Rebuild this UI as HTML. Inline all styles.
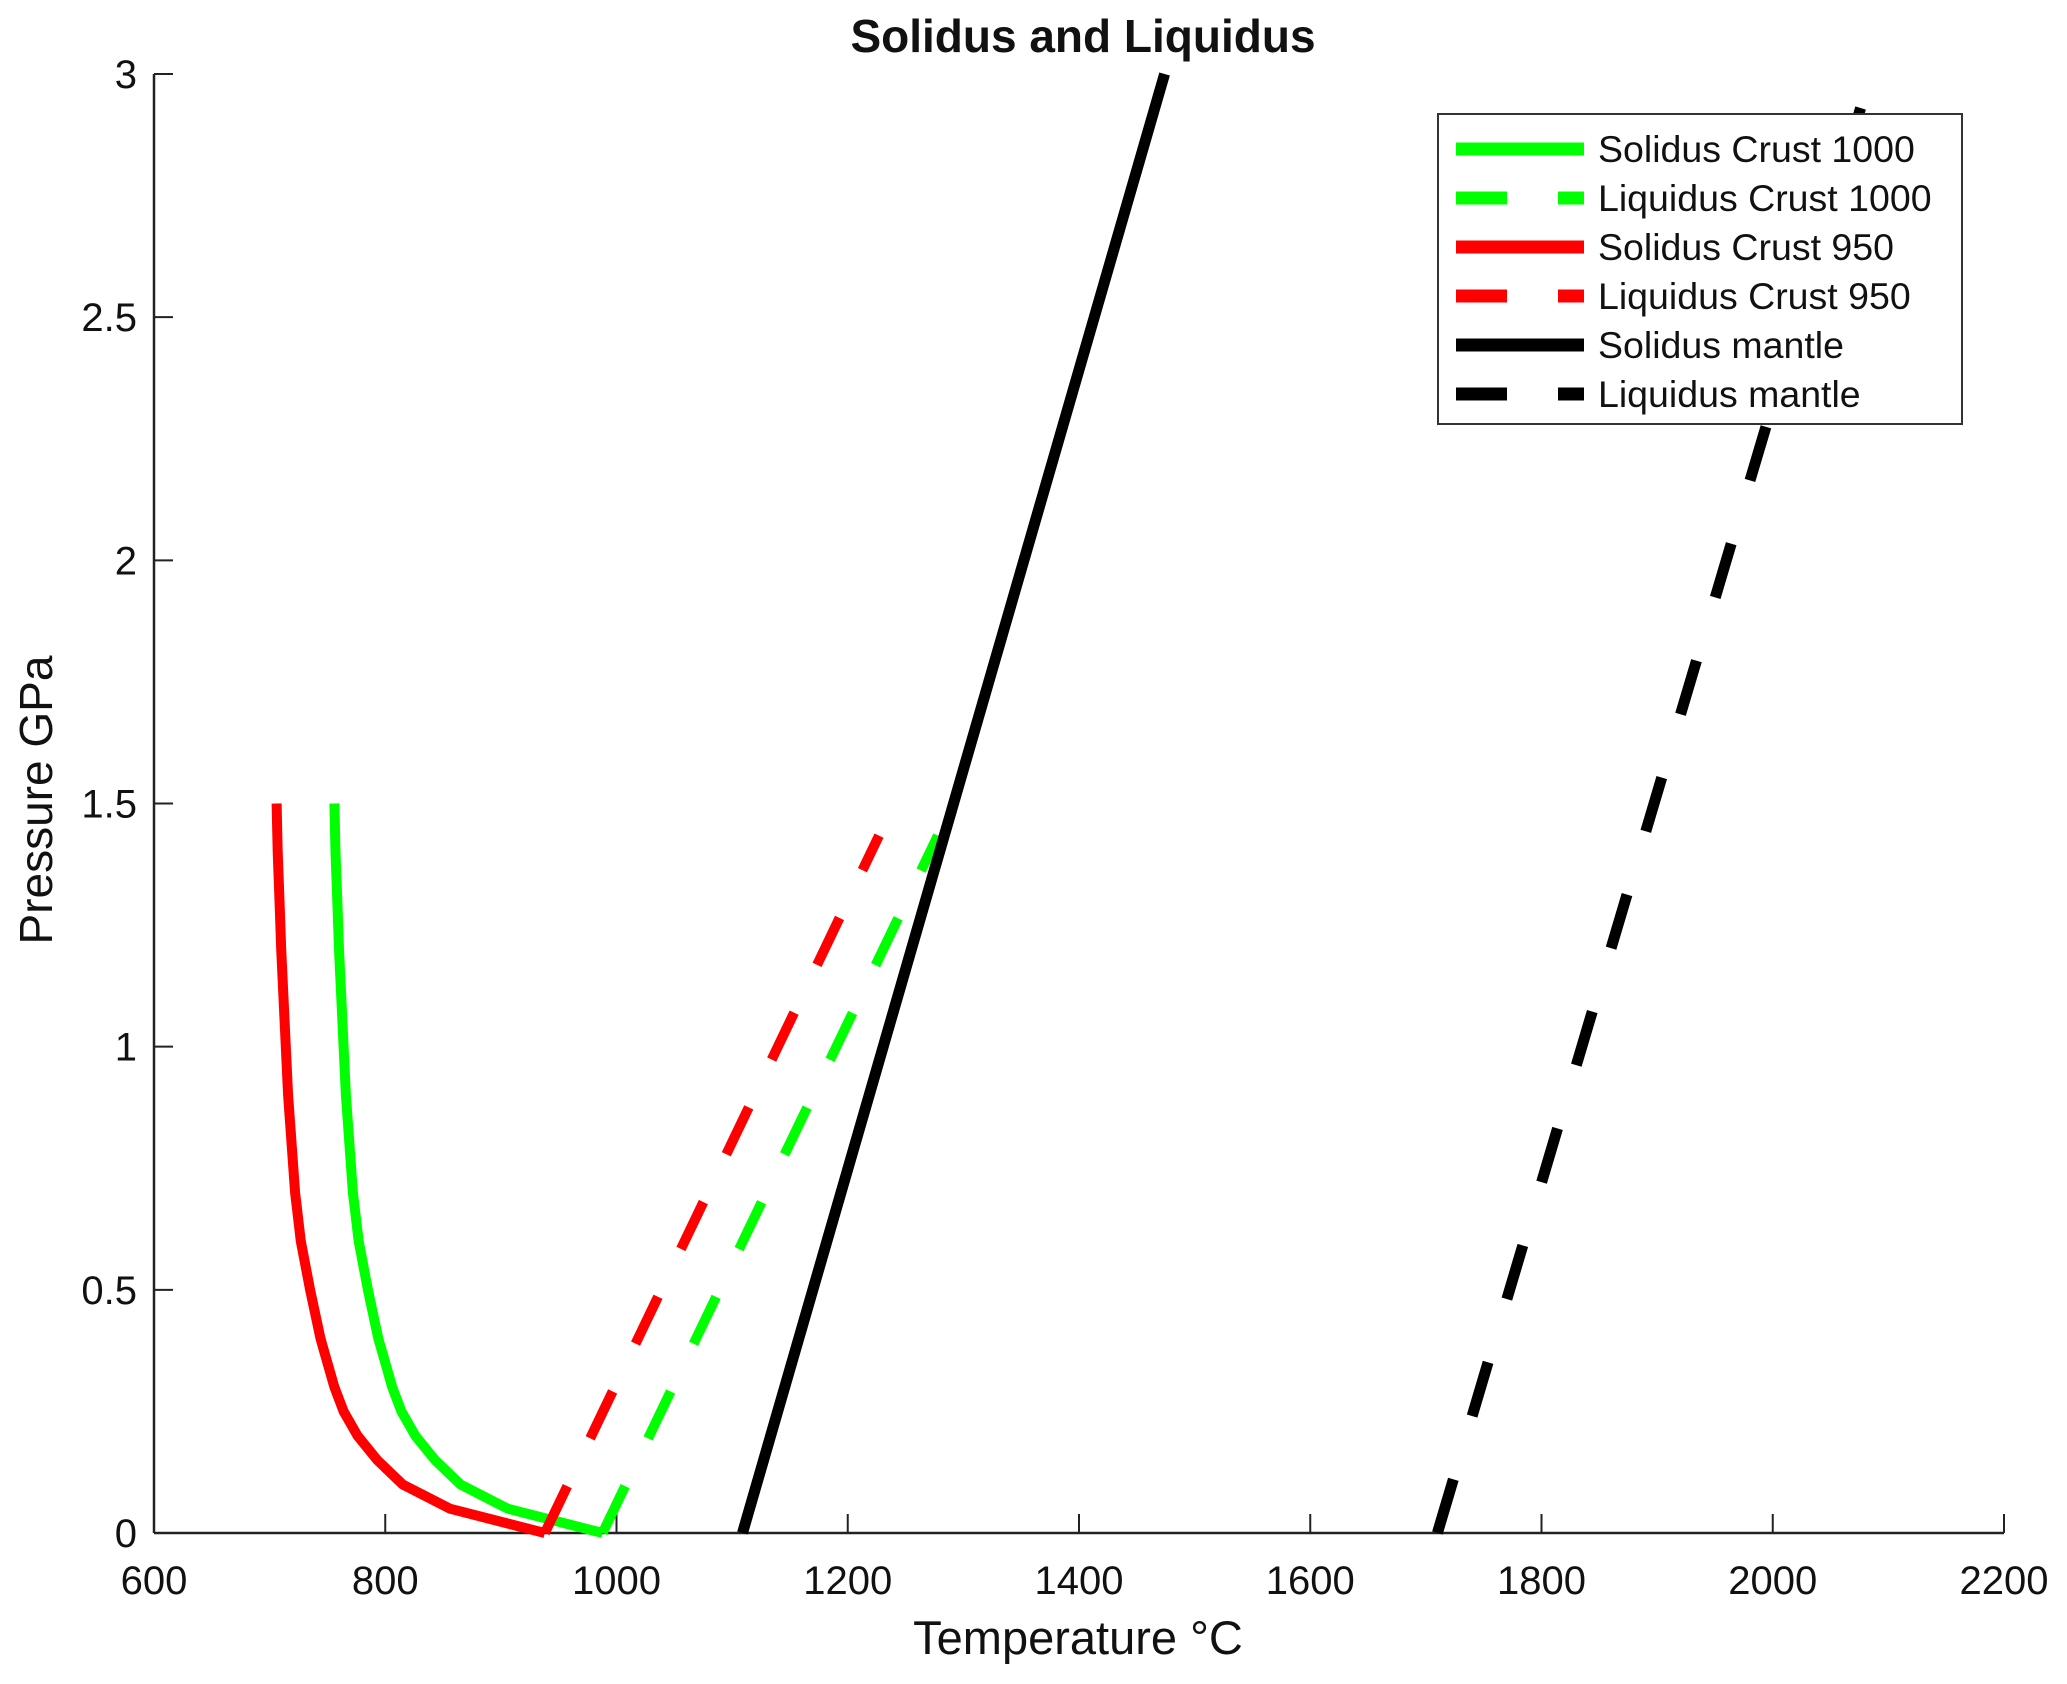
<!DOCTYPE html>
<html><head><meta charset="utf-8"><style>
html,body{margin:0;padding:0;background:#fff}
svg{display:block}
text{font-family:"Liberation Sans",Arial,sans-serif;fill:#111}
</style></head><body>
<svg id="chart" width="2067" height="1684" viewBox="0 0 2067 1684" xmlns="http://www.w3.org/2000/svg">
<text x="1083" y="52" font-size="46" font-weight="bold" text-anchor="middle">Solidus and Liquidus</text>
<g id="axes"></g>
<g id="series"></g>
<text x="1078" y="1654" font-size="47" text-anchor="middle">Temperature °C</text>
<text transform="translate(52,800) rotate(-90)" font-size="46" text-anchor="middle">Pressure GPa</text>
<g id="legend"></g>
</svg>
<script>
const xTicks=[600,800,1000,1200,1400,1600,1800,2000,2200];
const yTicks=[0,0.5,1,1.5,2,2.5,3];
const yTickLabels=["0","0.5","1","1.5","2","2.5","3"];
const solidusP=[0,0.05,0.1,0.15,0.2,0.25,0.3,0.35,0.4,0.5,0.6,0.7,0.8,0.9,1.0,1.1,1.2,1.3,1.4,1.5];
const solidusT950=[938,856,815,793,776,764,756,750,744,735,727,722,719,716,714,712,710,708.5,707,706];
const solidusT1000=[988,906,865,843,826,814,806,800,794,785,777,772,769,766,764,762,760,758.5,757,756];
const liqCrustP=[0,1.434];
const liqT950=[938,1227];
const liqT1000=[988,1278];
const solMantleP=[0,3];
const solMantleT=[1109,1474];
const liqMantleP=[0,2.93];
const liqMantleT=[1710,2076];
const legendLabels=["Solidus Crust 1000","Liquidus Crust 1000","Solidus Crust 950","Liquidus Crust 950","Solidus mantle","Liquidus mantle"];

const X0=154,X1=2004,Y0=1533,Y1=74;
const xs=t=>X0+(t-600)/1600*(X1-X0);
const ys=p=>Y0-p/3*(Y0-Y1);
const NS="http://www.w3.org/2000/svg";
function mk(tag,parent,attrs){const e=document.createElementNS(NS,tag);for(const k in attrs)e.setAttribute(k,attrs[k]);parent.appendChild(e);return e;}
const axes=document.getElementById('axes');
let e=mk('line',axes,{x1:X0,y1:Y0,x2:X1,y2:Y0,stroke:'#222','stroke-width':2.5});


e=mk('line',axes,{x1:X0,y1:Y0,x2:X0,y2:Y1,stroke:'#222','stroke-width':2.5});


xTicks.forEach(t=>{
  const tk=mk('line',axes,{x1:xs(t),y1:Y0,x2:xs(t),y2:Y0-19,stroke:'#222','stroke-width':2});
  
  
  const lb=mk('text',axes,{x:xs(t),y:1594,'font-size':40,'text-anchor':'middle'});
  lb.textContent=t;
  
  
});
yTicks.forEach((p,i)=>{
  const tk=mk('line',axes,{x1:X0,y1:ys(p),x2:X0+19,y2:ys(p),stroke:'#222','stroke-width':2});
  
  
  const lb=mk('text',axes,{x:137,y:ys(p)+14,'font-size':40,'text-anchor':'end'});
  lb.textContent=yTickLabels[i];
  
  
});
const series=document.getElementById('series');
function line(T,P,color,dash,w,name){
  const d=T.map((t,i)=>(i?'L':'M')+xs(t).toFixed(1)+' '+ys(P[i]).toFixed(1)).join(' ');
  const a={d:d,fill:'none',stroke:color,'stroke-width':w,'stroke-linejoin':'round'};
  if(dash)a['stroke-dasharray']=dash;
  const p=mk('path',series,a);
  
  
}
line(solidusT1000,solidusP,'#00ff00',null,10,'solidus-crust-1000-line');
line(liqT1000,liqCrustP,'#00ff00','52 53',10,'liquidus-crust-1000-line');
line(solidusT950,solidusP,'#ff0000',null,10,'solidus-crust-950-line');
line(liqT950,liqCrustP,'#ff0000','52 53',10,'liquidus-crust-950-line');
line(solMantleT,solMantleP,'#000000',null,11,'solidus-mantle-line');
line(liqMantleT,liqMantleP,'#000000','56 66',11,'liquidus-mantle-line');
const lg=document.getElementById('legend');
e=mk('rect',lg,{x:1438,y:114,width:524,height:310,fill:'#fff',stroke:'#333','stroke-width':2});


const colors=['#00ff00','#00ff00','#ff0000','#ff0000','#000','#000'];
legendLabels.forEach((l,i)=>{
  const y=149+i*49;
  const g=mk('g',lg,{});
  
  
  const a={x1:1456,y1:y,x2:1584,y2:y,stroke:colors[i],'stroke-width':13};
  if(i%2)a['stroke-dasharray']='51 51';
  const ln=mk('line',g,a);
  
  
  const t=mk('text',g,{x:1598,y:y+13,'font-size':37.5});
  t.textContent=l;
  
  
});
</script>
</body></html>
